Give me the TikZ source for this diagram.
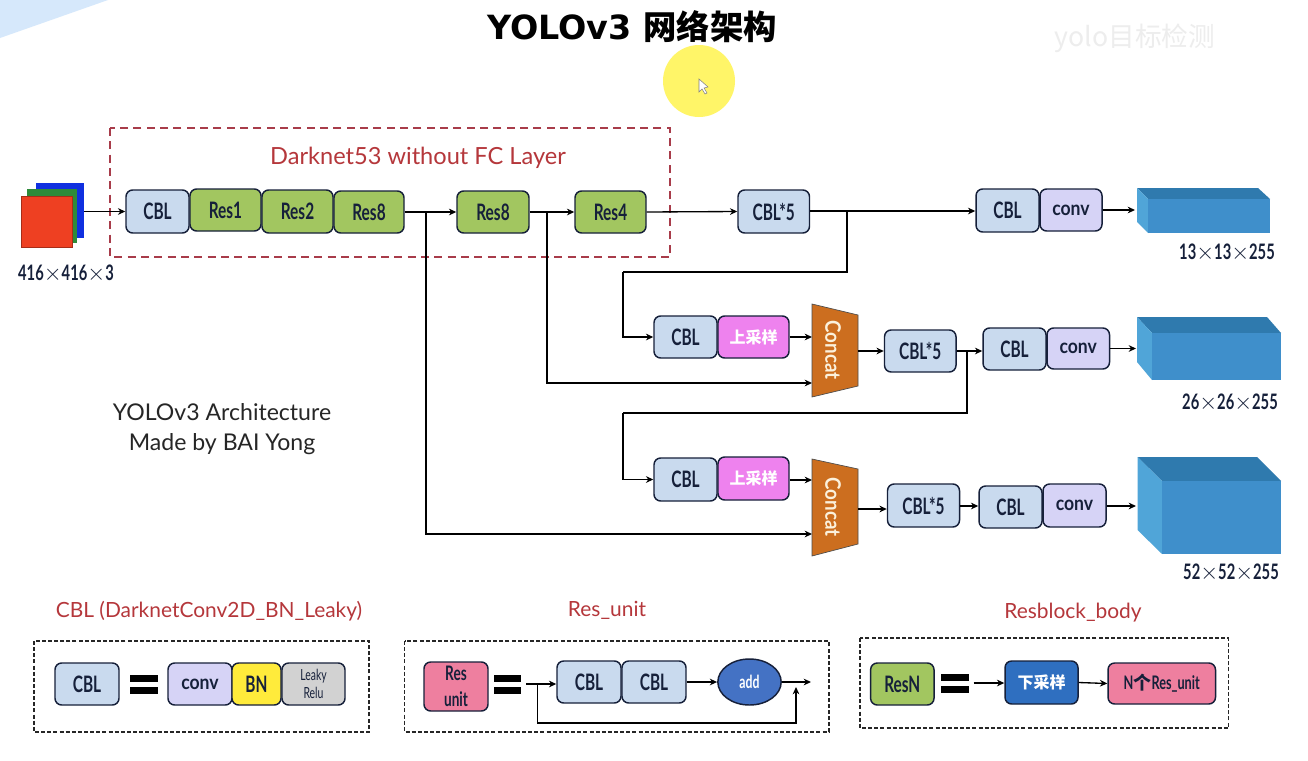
\documentclass[tikz,border=0pt]{standalone}
\usepackage{fontspec}
\usetikzlibrary{arrows.meta,shapes.geometric}
\setmainfont{Lato}
\newfontfamily\din[FakeStretch=0.68]{Lato}
\newfontfamily\dinmid[FakeStretch=0.69]{Lato}
\newfontfamily\dinwide[FakeStretch=0.88]{Lato}
\newfontfamily\dinthin{Lato}
\newfontfamily\cjk{Noto Sans CJK SC}
\newfontfamily\titlefont{DejaVu Sans}
\definecolor{cblc}{HTML}{C9DAEE}
\definecolor{resc}{HTML}{A2C660}
\definecolor{convc}{HTML}{D6D3F6}
\definecolor{upc}{HTML}{EE82EE}
\definecolor{concatc}{HTML}{CC6E1F}
\definecolor{bnc}{HTML}{FFEB3B}
\definecolor{leakyc}{HTML}{D2D2D2}
\definecolor{unitc}{HTML}{EE7F9F}
\definecolor{addc}{HTML}{4472C4}
\definecolor{downc}{HTML}{2F6FC0}
\definecolor{ink}{HTML}{16203A}
\definecolor{redt}{HTML}{B5373B}
\definecolor{redd}{HTML}{A83C4A}
\definecolor{cubf}{HTML}{3F8FCB}
\definecolor{cubt}{HTML}{2F7AAE}
\definecolor{cubl}{HTML}{50A5D8}
\definecolor{stackr}{HTML}{EE4022}
\definecolor{stackg}{HTML}{2E8B3A}
\definecolor{stackb}{HTML}{1030E0}
\definecolor{corner}{HTML}{D6E8FB}
\definecolor{marker}{HTML}{FFF568}
\definecolor{cream}{HTML}{FBF1DC}
\tikzset{
  x=0.75pt,y=-0.75pt,
  rbox/.style={draw=ink,line width=1.1pt,rounded corners=5pt,inner sep=0pt,align=center,text=ink,font=\din\bfseries\fontsize{17}{20}\selectfont},
  convbox/.style={font=\dinwide\bfseries\fontsize{15}{18}\selectfont},
  arr/.style={draw=black,line width=1pt,-{Stealth[length=5.5pt,width=5pt]}},
  wire/.style={draw=black,line width=1pt},
  reddash/.style={draw=redd,line width=1pt,dash pattern=on 6pt off 4pt},
  blackdash/.style={draw=black!85,line width=1pt,dash pattern=on 3pt off 1.6pt},
  redlabel/.style={text=redt,font=\dinthin\fontsize{15.7}{18}\selectfont},
  dimlabel/.style={text=ink,font=\dinmid\bfseries\fontsize{16}{18}\selectfont},
  note/.style={text=black!85,font=\dinthin\fontsize{17.3}{22.5}\selectfont,align=center},
  cjkwhite/.style={text=white,font=\cjk\bfseries\fontsize{12}{14}\selectfont},
  concatlabel/.style={text=cream,font=\dinwide\bfseries\fontsize{16}{18}\selectfont,rotate=-90},
  layer/.style={draw=none,inner sep=0pt}
}
\newcommand{\bx}[7][]{\node[rbox,fill=#2,minimum width={(#5-#3)*0.75pt},minimum height={(#6-#4)*0.75pt},#1] (#7) at ({(#3+#5)/2},{(#4+#6)/2})}
\newcommand{\eqbars}[3]{\fill[black] (#1,#3) rectangle (#2,{#3+7}); \fill[black] (#1,{#3+12}) rectangle (#2,{#3+19});}
\newcommand{\cuboid}[8]{%
  \fill[cubt] (#1,#3) -- (#5,#3) -- (#2,#4) -- (#6,#4) -- cycle;
  \fill[cubl] (#1,#3) -- (#6,#4) -- (#6,#8) -- (#1,#7) -- cycle;
  \fill[cubf] (#6,#4) rectangle (#2,#8);}
\begin{document}
\begin{tikzpicture}
\useasboundingbox (0,0) rectangle (1308,760);
\fill[white] (0,0) rectangle (1308,760);
\fill[corner] (0,0) -- (108,0) -- (0,38) -- cycle;
\fill[marker] (699,81) circle (36*0.75pt);
\draw[black!50,line width=.4pt,fill=white] (699,79) -- (699,92) -- (702,89) -- (705,94) -- (707,93) -- (704,88) -- (708,87) -- cycle;
\node[text=black!7,font=\cjk\fontsize{20}{24}\selectfont] (wm) at (1135,38) {yolo目标检测};
\node[font=\titlefont\bfseries\fontsize{25}{28}\selectfont,inner sep=0pt] (title) at (632,27) {YOLOv3 {\cjk\bfseries\fontsize{25}{28}\selectfont 网络架构}};

% input stack
\node[layer,fill=stackb,minimum width=36pt,minimum height=41.25pt] (blue) at (60,210.5) {};
\node[layer,fill=stackg,minimum width=37.5pt,minimum height=40.5pt] (green) at (52,216) {};
\node[layer,fill=stackr,draw=stackr!70!black,line width=.3pt,minimum width=38.25pt,minimum height=38.25pt] (red) at (46.5,221.5) {};
\node[dimlabel] (inlab) at (66,274) {416$\times$416$\times$3};

% Darknet frame
\draw[reddash] (110,128) rectangle (670,257);
\node[redlabel,font=\dinthin\fontsize{17.7}{20}\selectfont] (dn) at (418,158) {Darknet53 without FC Layer};

% backbone
\bx{cblc}{126}{190}{189}{233}{cbla}{CBL};
\bx{resc}{190}{189}{261}{231}{res1}{Res1};
\bx{resc}{262}{190}{333}{233}{res2}{Res2};
\bx{resc}{334}{191}{404}{233}{res8a}{Res8};
\bx{resc}{457}{191}{529}{233}{res8b}{Res8};
\bx{resc}{575}{191}{646}{233}{res4}{Res4};

% top branch
\bx{cblc}{738}{190}{809.5}{233}{five1}{CBL*5};
\bx{cblc}{976}{189}{1039}{232}{cbl1}{CBL};
\bx[convbox]{convc}{1040}{189}{1102}{231}{conv1}{conv};
\cuboid{1137}{1270}{188}{199}{1258}{1148}{222}{233}
\coordinate (cub1) at (1135,210);
\node[dimlabel] (lab1) at (1227,253) {13$\times$13$\times$255};

% middle branch
\bx{cblc}{654}{316}{717}{358}{cbl2}{CBL};
\bx[cjkwhite]{upc}{718}{316}{789}{358}{up1}{上采样};
\fill[concatc,draw=black!70,line width=.5pt] (812,304) -- (858,315) -- (858,386) -- (812,397) -- cycle;
\node[concatlabel] (con1) at (833,350) {Concat};
\coordinate (c1a) at (812,337);
\coordinate (c1b) at (812,383);
\coordinate (c1o) at (858,351);
\bx{cblc}{884.5}{330}{956}{372}{five2}{CBL*5};
\bx{cblc}{983}{328}{1046}{370}{cbl3}{CBL};
\bx[convbox]{convc}{1047}{328}{1109.5}{369}{conv2}{conv};
\cuboid{1137}{1281}{317}{333}{1267}{1152}{362}{380}
\coordinate (cub2) at (1136,349);
\node[dimlabel] (lab2) at (1230,403) {26$\times$26$\times$255};

% bottom branch
\bx{cblc}{654}{458}{717}{501}{cbl4}{CBL};
\bx[cjkwhite]{upc}{718}{457}{789}{500}{up2}{上采样};
\fill[concatc,draw=black!70,line width=.5pt] (812,459) -- (858,469) -- (858,544) -- (812,556) -- cycle;
\node[concatlabel] (con2) at (833,507) {Concat};
\coordinate (c2a) at (812,480);
\coordinate (c2b) at (812,534);
\coordinate (c2o) at (858,509);
\bx{cblc}{887.5}{484}{959.5}{527}{five3}{CBL*5};
\bx{cblc}{979}{486}{1042}{528}{cbl5}{CBL};
\bx[convbox]{convc}{1043}{484}{1106}{527}{conv3}{conv};
\cuboid{1137.5}{1281}{457}{481}{1257}{1162}{530}{554}
\coordinate (cub3) at (1136,506);
\node[dimlabel] (lab3) at (1231,573) {52$\times$52$\times$255};

% junctions
\coordinate (j1) at (426,212);
\coordinate (j2) at (547,212);
\coordinate (j3) at (847,211);
\coordinate (j4) at (967,351);
\coordinate (t1) at (623,272);
\coordinate (t2) at (623,413);

% connectors
\draw[arr] (blue.east |- cbla.west) -- (cbla.west);
\draw[arr] (res8a.east) -- (res8b.west);
\draw[arr] (res8b.east) -- (res4.west);
\draw[arr] (res4.east) -- (five1.west);
\draw[arr] (five1.east |- j3) -- (cbl1.west |- j3);
\draw[arr] (conv1.east) -- (cub1 |- conv1.east);
\draw[wire] (j3) -- (j3 |- t1) -- (t1);
\draw[arr] (t1) -- (t1 |- cbl2.west) -- (cbl2.west);
\draw[arr] (up1.east) -- (c1a);
\draw[arr] (j2) -- (j2 |- c1b) -- (c1b);
\draw[arr] (c1o) -- (five2.west);
\draw[arr] (five2.east) -- (cbl3.west |- five2.east);
\draw[arr] (conv2.east) -- (cub2 |- conv2.east);
\draw[wire] (j4) -- (j4 |- t2) -- (t2);
\draw[arr] (t2) -- (t2 |- cbl4.west) -- (cbl4.west);
\draw[arr] (up2.east |- c2a) -- (c2a);
\draw[arr] (j1) -- (j1 |- c2b) -- (c2b);
\draw[arr] (c2o) -- (five3.west |- c2o);
\draw[arr] (five3.east |- cub3) -- (cbl5.west |- cub3);
\draw[arr] (conv3.east |- cub3) -- (cub3);

\node[note] (arch) at (222,429) {YOLOv3 Architecture\\Made by BAI Yong};

% legend CBL
\node[redlabel] (t1l) at (209,611) {CBL (DarknetConv2D\_BN\_Leaky)};
\draw[blackdash] (34,641) rectangle (369,732);
\bx{cblc}{55}{663}{119}{705}{lcbl}{CBL};
\eqbars{130}{158}{675}
\bx[convbox]{convc}{168}{663}{232}{705}{lconv}{conv};
\bx{bnc}{232}{663}{281}{705}{lbn}{BN};
\bx[font=\din\fontsize{11.5}{14}\selectfont]{leakyc}{282}{663}{345}{705}{lleaky}{Leaky\\Relu};

% legend Res_unit
\node[redlabel] (t2l) at (607,610) {Res\_unit};
\draw[blackdash] (404.5,641) rectangle (829,732);
\bx[font=\din\bfseries\fontsize{15}{19.5}\selectfont]{unitc}{424}{662}{488}{711}{lunit}{Res\\unit};
\eqbars{493.5}{521}{675}
\coordinate (us) at (526,684);
\coordinate (uj) at (537.5,684);
\coordinate (uk) at (796,723);
\coordinate (ue) at (811,683);
\coordinate (um) at (796,687);
\bx{cblc}{557}{661}{621}{703}{ucbl1}{CBL};
\bx{cblc}{622}{661}{686}{703}{ucbl2}{CBL};
\node[draw=ink,line width=1.1pt,fill=addc,ellipse,inner sep=0pt,minimum width=47.5pt,minimum height=34.5pt,text=white,font=\din\bfseries\fontsize{13.5}{16}\selectfont] (uadd) at (749.5,682) {add};
\draw[arr] (us) -- (ucbl1.west |- us);
\draw[arr] (ucbl2.east) -- (uadd.west);
\draw[arr] (uadd.east) -- (ue |- uadd.east);
\draw[arr] (uj) -- (uj |- uk) -- (uk) -- (um);

% legend Resblock
\node[redlabel] (t3l) at (1073,613) {Resblock\_body};
\draw[blackdash] (860,638) rectangle (1228.6,728);
\bx{resc}{870.6}{663}{934}{705}{lres}{ResN};
\eqbars{941}{969}{674}
\coordinate (rs) at (973.5,683);
\bx[cjkwhite]{downc}{1005}{661}{1078}{704}{ldown}{下采样};
\bx[font=\din\bfseries\fontsize{14}{16}\selectfont]{unitc}{1108}{663}{1215.5}{704}{lnres}{N{\cjk\fontsize{13.5}{16}\selectfont 个}Res\_unit};
\draw[arr] (rs) -- (ldown.west |- rs);
\draw[arr] (ldown.east) -- (lnres.west);
\end{tikzpicture}
\end{document}
